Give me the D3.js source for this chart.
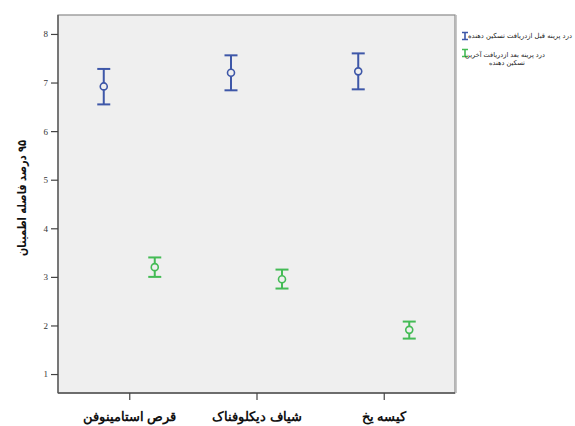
<!DOCTYPE html>
<html>
<head>
<meta charset="utf-8">
<script src="https://cdn.jsdelivr.net/npm/d3@7"></script>
<style>
  body { margin: 0; background: #fff; }
  svg { display: block; font-family: "DejaVu Sans", sans-serif; }
</style>
</head>
<body>
<svg width="575" height="426"></svg>
<script>
// ---- data ----
var categories = ["قرص استامینوفن", "شیاف دیکلوفناک", "کیسه یخ"];
var seriesNames = ["درد پرینه قبل ازدریافت تسکین دهنده", "درد پرینه  بعد ازدریافت آخرین تسکین دهنده"];
var beforeMean = [6.92, 7.20, 7.23];
var beforeLow = [6.55, 6.84, 6.86];
var beforeHigh = [7.28, 7.56, 7.60];
var afterMean = [3.20, 2.95, 1.91];
var afterLow = [3.00, 2.76, 1.73];
var afterHigh = [3.40, 3.15, 2.08];
var yTicks = [1, 2, 3, 4, 5, 6, 7, 8];
var yTitle = "۹۵ درصد فاصله اطمینان";

var colors = ["#3e57a8", "#44bb55"];

var svg = d3.select("svg"),
    pl = 58, pr = 455, pt = 15, pb = 393;

var y = d3.scaleLinear().domain([0.61, 8.39]).range([pb, pt]);
var x = d3.scalePoint().domain(categories).range([pl, pr]).padding(0.56);
var xs = d3.scalePoint().domain(seriesNames).range([-25.5, 25.5]);

// plot frame
svg.append("rect")
    .attr("x", pl).attr("y", pt)
    .attr("width", pr - pl).attr("height", pb - pt)
    .attr("fill", "#efefef")
    .attr("stroke", "#8a8a8a").attr("stroke-width", 1.2);
svg.append("line").attr("x1", pr + 1.5).attr("x2", pr + 1.5)
    .attr("y1", pt).attr("y2", pb).attr("stroke", "#c8c8c8").attr("stroke-width", 1);
svg.append("line").attr("x1", pl).attr("x2", pl).attr("y1", pt).attr("y2", pb)
    .attr("stroke", "#555").attr("stroke-width", 1.3);
svg.append("line").attr("x1", pl).attr("x2", pr).attr("y1", pb).attr("y2", pb)
    .attr("stroke", "#555").attr("stroke-width", 1.3);

// axes
var yAxis = svg.append("g")
    .attr("transform", "translate(" + pl + ",0)")
    .call(d3.axisLeft(y).tickValues(yTicks).tickSize(7).tickPadding(3).tickFormat(d3.format("d")));
yAxis.select(".domain").remove();
yAxis.selectAll("line").attr("stroke", "#444").attr("stroke-width", 1.2);
yAxis.selectAll("text").attr("fill", "#333").style("font-size", "9px")
    .style("font-family", "Liberation Serif, serif");

var xAxis = svg.append("g")
    .attr("transform", "translate(0," + pb + ")")
    .call(d3.axisBottom(x).tickSize(7).tickPadding(12));
xAxis.select(".domain").remove();
xAxis.selectAll("line").attr("stroke", "#444").attr("stroke-width", 1.2);
xAxis.selectAll("text").attr("fill", "#111").style("font-size", "12.5px").style("font-weight", "bold");

// y title
svg.append("text")
    .attr("transform", "translate(22,198) rotate(-90)")
    .attr("text-anchor", "middle")
    .attr("direction", "rtl")
    .attr("dy", "0.35em")
    .attr("textLength", 116)
    .attr("lengthAdjust", "spacingAndGlyphs")
    .style("font-size", "12px").style("font-weight", "bold")
    .attr("fill", "#111")
    .text(yTitle);

// error bars
var series = [
  { name: seriesNames[0], mean: beforeMean, lo: beforeLow, hi: beforeHigh, color: colors[0] },
  { name: seriesNames[1], mean: afterMean, lo: afterLow, hi: afterHigh, color: colors[1] }
];

var capW = 6.5;
series.forEach(function (s) {
  var g = svg.append("g").attr("stroke", s.color).attr("fill", "none").attr("stroke-width", 2);
  var pts = categories.map(function (c, i) {
    return { cx: x(c) + xs(s.name), mean: s.mean[i], lo: s.lo[i], hi: s.hi[i] };
  });
  g.selectAll(".whisker").data(pts).enter().append("line")
      .attr("x1", function (d) { return d.cx; }).attr("x2", function (d) { return d.cx; })
      .attr("y1", function (d) { return y(d.lo); }).attr("y2", function (d) { return y(d.hi); });
  g.selectAll(".capTop").data(pts).enter().append("line")
      .attr("x1", function (d) { return d.cx - capW; }).attr("x2", function (d) { return d.cx + capW; })
      .attr("y1", function (d) { return y(d.hi); }).attr("y2", function (d) { return y(d.hi); });
  g.selectAll(".capBot").data(pts).enter().append("line")
      .attr("x1", function (d) { return d.cx - capW; }).attr("x2", function (d) { return d.cx + capW; })
      .attr("y1", function (d) { return y(d.lo); }).attr("y2", function (d) { return y(d.lo); });
  g.selectAll("circle").data(pts).enter().append("circle")
      .attr("cx", function (d) { return d.cx; })
      .attr("cy", function (d) { return y(d.mean); })
      .attr("r", 3.5).attr("stroke-width", 1.6).attr("fill", "#efefef");
});

// legend
var legend = svg.append("g").attr("fill", "#222");
var lg0 = legend.append("g").attr("transform", "translate(465,36)");
lg0.append("path").attr("d", "M-3,-3.5H3M0,-3.5V3.5M-3,3.5H3")
    .attr("stroke", colors[0]).attr("stroke-width", 1.6).attr("fill", "none");
lg0.append("text").attr("x", 55).attr("dy", "0.35em").attr("text-anchor", "middle")
    .style("font-size", "6.8px")
    .text(seriesNames[0]);

var lg1 = legend.append("g").attr("transform", "translate(465,53)");
lg1.append("path").attr("d", "M-3,-3.5H3M0,-3.5V3.5M-3,3.5H3")
    .attr("stroke", colors[1]).attr("stroke-width", 1.6).attr("fill", "none");
var words = seriesNames[1].split(" ");
lg1.append("text").attr("x", 40).attr("y", 1.5).attr("dy", "0.35em").attr("text-anchor", "middle")
    .style("font-size", "6.6px")
    .text(words.slice(0, words.length - 2).join(" "));
lg1.append("text").attr("x", 42).attr("y", 10).attr("dy", "0.35em").attr("text-anchor", "middle")
    .style("font-size", "6.6px")
    .text(words.slice(words.length - 2).join(" "));
</script>
</body>
</html>
